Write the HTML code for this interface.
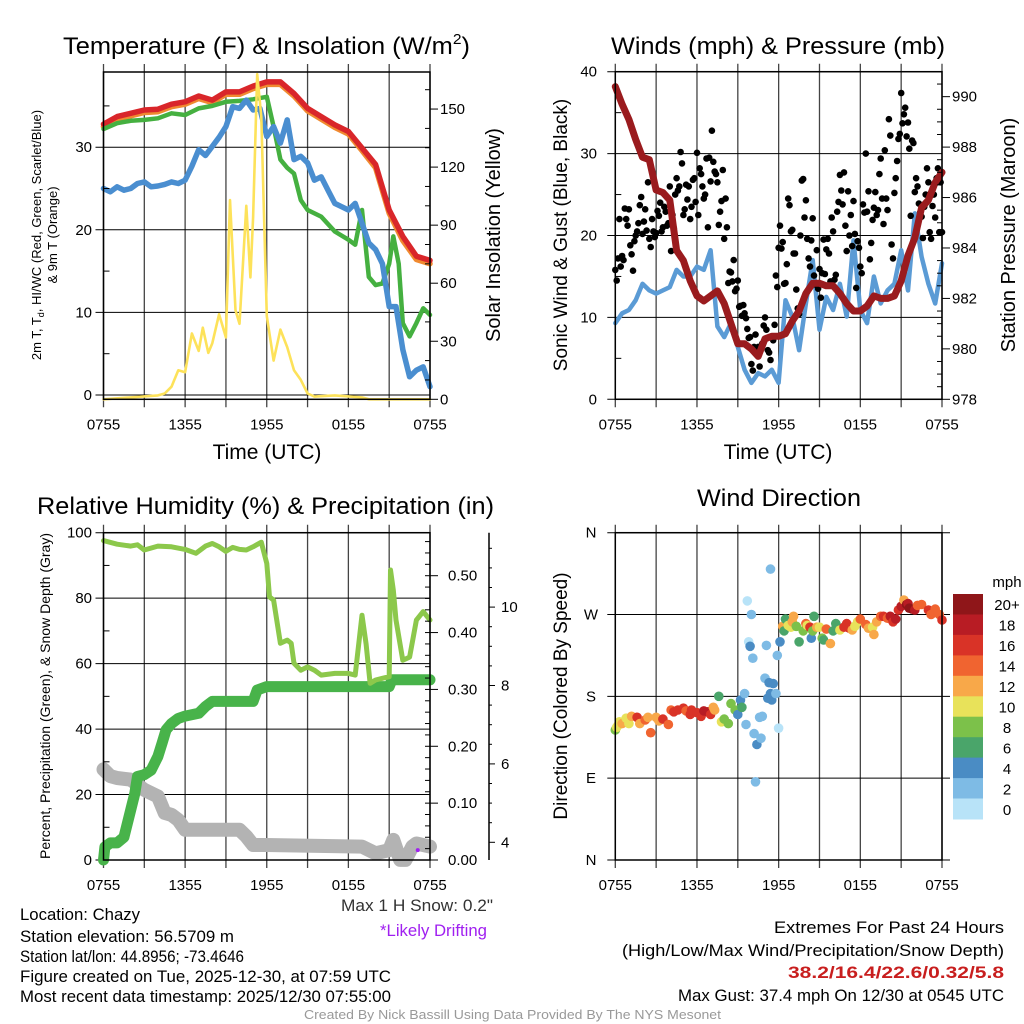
<!DOCTYPE html>
<html><head><meta charset="utf-8"><style>
html,body{margin:0;padding:0;background:#fff;}
svg{display:block;font-family:"Liberation Sans",sans-serif;}
</style></head><body>
<svg id="c" width="1024" height="1024" viewBox="0 0 1024 1024">
<g id="g-grid"></g>
<g id="g-data"></g>
<g id="g-axes"></g>
<g id="g-text">
<text x="63" y="54" font-size="24.5" textLength="407" lengthAdjust="spacingAndGlyphs">Temperature (F) &amp; Insolation (W/m<tspan font-size="15" dy="-10">2</tspan><tspan dy="10">)</tspan></text>
<text x="611" y="54" font-size="24.5" textLength="334" lengthAdjust="spacingAndGlyphs">Winds (mph) &amp; Pressure (mb)</text>
<text x="37" y="514" font-size="24.5" textLength="457" lengthAdjust="spacingAndGlyphs">Relative Humidity (%) &amp; Precipitation (in)</text>
<text x="697" y="506" font-size="24.5" textLength="164" lengthAdjust="spacingAndGlyphs">Wind Direction</text>
<text x="267" y="459" font-size="21" text-anchor="middle">Time (UTC)</text>
<text x="778" y="459" font-size="21" text-anchor="middle">Time (UTC)</text>
<text transform="translate(41,235) rotate(-90)" font-size="13" text-anchor="middle">2m T, T<tspan font-size="9" dy="3">d</tspan><tspan dy="-3">, HI/WC (Red, Green, Scarlet/Blue)</tspan></text>
<text transform="translate(57,235) rotate(-90)" font-size="13" text-anchor="middle">&amp; 9m T (Orange)</text>
<text transform="translate(500,235) rotate(-90)" font-size="20" text-anchor="middle">Solar Insolation (Yellow)</text>
<text transform="translate(567,235) rotate(-90)" font-size="19" text-anchor="middle">Sonic Wind &amp; Gust (Blue, Black)</text>
<text transform="translate(1015,235) rotate(-90)" font-size="20" text-anchor="middle">Station Pressure (Maroon)</text>
<text transform="translate(50,696) rotate(-90)" font-size="14" text-anchor="middle">Percent, Precipitation (Green), &amp; Snow Depth (Gray)</text>
<text transform="translate(567,696) rotate(-90)" font-size="19" text-anchor="middle">Direction (Colored By Speed)</text>
<text x="1007" y="587" font-size="15" text-anchor="middle">mph</text>
<g font-size="17">
<text x="20" y="920" textLength="120" lengthAdjust="spacingAndGlyphs">Location: Chazy</text>
<text x="20" y="942" textLength="214" lengthAdjust="spacingAndGlyphs">Station elevation: 56.5709 m</text>
<text x="20" y="962" textLength="224" lengthAdjust="spacingAndGlyphs">Station lat/lon: 44.8956; -73.4646</text>
<text x="20" y="982" textLength="371" lengthAdjust="spacingAndGlyphs">Figure created on Tue, 2025-12-30, at 07:59 UTC</text>
<text x="20" y="1002" textLength="371" lengthAdjust="spacingAndGlyphs">Most recent data timestamp: 2025/12/30 07:55:00</text>
</g>
<text x="341" y="911" font-size="17" textLength="152" lengthAdjust="spacingAndGlyphs" fill="#333">Max 1 H Snow: 0.2"</text>
<text x="380" y="936" font-size="17" textLength="107" lengthAdjust="spacingAndGlyphs" fill="#a020f0">*Likely Drifting</text>
<g font-size="17">
<text x="774" y="933" textLength="230" lengthAdjust="spacingAndGlyphs">Extremes For Past 24 Hours</text>
<text x="622" y="956" textLength="382" lengthAdjust="spacingAndGlyphs">(High/Low/Max Wind/Precipitation/Snow Depth)</text>
<text x="788" y="978" textLength="216" lengthAdjust="spacingAndGlyphs" fill="#c81e1e" font-weight="bold">38.2/16.4/22.6/0.32/5.8</text>
<text x="678" y="1001" textLength="326" lengthAdjust="spacingAndGlyphs">Max Gust: 37.4 mph On 12/30 at 0545 UTC</text>
</g>
<text x="304" y="1019" font-size="13" textLength="417" lengthAdjust="spacingAndGlyphs" fill="#999">Created By Nick Bassill Using Data Provided By The NYS Mesonet</text>
</g>
</svg>
<script>
// ---------- data ----------
const timeTickLabels = ["0755","1355","1955","0155","0755"];
const tempTicks = [0,10,20,30];
const solarTicks = [0,30,60,90,120,150];
const windTicks = [0,10,20,30,40];
const presTicks = [978,980,982,984,986,988,990];
const rhTicks = [0,20,40,60,80,100];
const precipTicks = [0,0.1,0.2,0.3,0.4,0.5];
const precipTickLabels = ["0.00","0.10","0.20","0.30","0.40","0.50"];
const snowTicks = [4,6,8,10];
const dirTicks = [0,90,180,270,360];
const dirTickLabels = ["N","E","S","W","N"];
const speedBins = ["0","2","4","6","8","10","12","14","16","18","20+"];
const speedColors = ["#b8e3f8","#7ebbe5","#4a8cc4","#4aa56a","#7cc14a","#e8e25a","#f8a849","#f06430","#d93327","#b81c24","#8f1619"];

const hourly = [0,1,2,3,4,5,6,7,8,9,10,11,12,13,14,15,16,17,18,19,20,21,22,23,24];
const tempRed = [32.8,33.7,34.1,34.5,34.6,35.2,35.5,36.2,35.7,36.7,36.7,37.4,37.9,37.9,36.5,34.7,33.7,32.7,31.9,29.9,27.9,22.4,19.2,16.8,16.3];
const tempOrange = [32.5,33.4,33.8,34.2,34.3,34.9,35.2,35.9,35.4,36.4,36.4,37.1,37.6,37.6,36.2,34.4,33.4,32.4,31.6,29.6,27.5,22.0,18.7,16.4,15.9];
const tdHours = [0,1,2,3,4,5,6,7,8,9,10,11,12,12.5,13,13.5,14,14.5,15,16,17,18,18.5,19,19.5,20,20.5,21,21.3,21.7,22,22.5,23,23.5,24];
const tdValues = [32.2,32.9,33.2,33.3,33.5,34.1,33.9,34.7,35.0,35.5,35.6,35.8,36.1,32.5,28.5,27.5,26.8,23.6,22.4,21.6,19.8,18.8,18.2,22.4,14.3,13.3,13.5,15.9,19.2,15.9,8.7,7.1,8.7,10.5,9.7];
const halfHours = [0,0.5,1,1.5,2,2.5,3,3.5,4,4.5,5,5.5,6,6.5,7,7.5,8,8.5,9,9.5,10,10.5,11,11.5,12,12.5,13,13.5,14,14.5,15,15.5,16,16.5,17,17.5,18,18.5,19,19.5,20,20.5,21,21.5,22,22.5,23,23.5,24];
const wcValues = [25.0,24.6,25.2,24.8,25.0,25.6,25.8,25.2,25.3,25.5,25.8,25.6,26.0,27.7,29.7,29.0,30.1,31.2,32.5,34.9,34.7,35.7,34.5,34.7,31.3,32.5,30.5,33.3,28.5,28.9,28.1,26.0,26.4,24.8,23.2,22.8,22.4,23.2,20.8,18.4,17.6,15.9,10.7,10.7,5.5,2.2,3.0,3.4,1.0];
const solarHours = [0,2,4,4.5,5,5.5,6,6.5,7,7.3,7.7,8,8.5,9,9.3,9.7,10,10.5,10.8,11,11.3,11.6,12,12.5,13,13.5,14,14.5,15,15.5,17,19,19.5,24];
const solarValues = [0,1,2,3,6.5,15,14,34,25,37,24,29,44,32,103,46,39,100,63,94,168,146,43,20,36,27,15,10,3,1.4,2,1,0,0];

const presValues = [990.4,989.7,989.1,988.3,987.6,987.5,986.3,986.2,985.9,983.9,983.5,982.7,982.1,981.9,982.1,982.3,981.8,981.0,980.2,980.2,980.0,979.7,980.4,980.5,980.5,980.6,981.1,981.5,982.2,982.6,982.6,982.5,982.5,982.2,981.8,981.5,981.5,981.7,982.1,982.0,982.0,982.1,982.7,983.7,984.4,985.6,985.9,986.6,987.0];
const windValues = [9.3,10.5,10.9,12.1,14.1,13.3,12.9,13.3,13.7,15.8,15.0,15.0,16.2,15.8,18.2,8.9,7.6,9.3,6.4,3.6,2.0,3.2,2.8,3.6,2.0,12.1,10.1,6.0,11.7,17.0,8.5,12.5,10.9,14.1,10.1,19.4,10.9,9.3,15.0,11.7,13.3,14.1,18.2,13.3,22.7,17.4,14.1,11.7,16.6];
// gusts every 0.1 h from 0755
const gustValues = [15.8,14.5,17.2,22,16.2,17.5,17,23.3,22,21.2,23.2,18.8,17.7,15.7,19.3,20,20.5,21.5,23.7,24.7,20.2,21.7,23.2,20.6,26.5,19.6,18.6,22,20.5,19.8,20.3,23,22.4,24,20.5,21,23.5,22.9,21.2,21.5,26,18.1,22.5,20.9,25,27,25.5,26,30.2,28.8,22.5,23.2,26.2,24.4,26,22,23.5,26.8,27,24.1,30.1,22.5,28.2,27.5,26,24.5,25,29.4,21,29.5,26.6,32.8,29,27.8,27.5,26.5,21.3,22.9,24.2,28,19.6,24.5,21,14.2,15.6,15.5,14.4,17,13.2,13.5,14.5,11.3,11.4,10.2,11.5,10.5,9.9,8.6,7.5,7.6,4.3,3.5,6.4,7.9,6.2,6.4,4,6.5,6.8,9,10,8.5,6,5.7,4.8,7.6,7.2,9.1,15.1,13.7,18.5,21.2,18.4,19.2,14.1,14.2,16.5,24.5,23.7,20.5,20.7,17.8,17.8,13.4,11.1,10.4,20,26.7,26.9,22.2,24.3,19.6,17.2,16.2,19.4,22.1,15.1,14,18.2,13.5,15.9,12.4,15.4,19.5,15.3,18.3,19.6,17.8,14.4,22.2,20.5,14.6,15.2,22.9,24.1,27.4,25.5,23.8,27.7,21.2,18.1,25.4,20,22.5,18.7,24.2,20.2,13.6,19.3,18.5,16.2,15.4,23.8,22.8,30,22.9,25.4,17.1,19.1,21.9,23.4,25.3,22.5,23.1,27.5,29.4,24.5,21.4,30.4,24.5,23.1,34.2,32.2,18.9,17.2,25.2,27,29.1,31.8,32.4,37.4,33.7,34.8,35.6,32.1,33.8,30.6,22.4,31.6,31.3,25.3,27,26,23.9,22.8,22.3,19.7,23.5,25,28.2,26.5,20.4,19.6,23.6,25,22.2,27,28.2,20.4,26.5,20.4];

const rhHours = [0,1,2,2.5,3,4,5,6,6.8,7.5,8,8.5,9,9.5,10,10.5,11,11.6,12,12.2,12.5,13,13.5,13.8,14,14.5,15,15.5,16,17,18,18.5,19,19.3,19.6,20,20.5,21,21.1,21.3,21.5,22,22.5,23,23.5,24];
const rhValues = [97.6,96.5,95.9,96.3,94.7,95.9,95.7,94.9,93.7,95.9,96.7,95.7,94.3,95.5,94.9,94.7,95.7,97.1,90.6,80.4,79.4,66.2,67.2,66.2,60.1,58,59,58,56.5,57,57,56.5,74.8,66,54,55,55.5,56,88.6,82.5,73.3,61,62,73.3,75.9,73.3];
const precipHours = [0,0.1,0.5,1,1.5,2,2.3,2.5,3,3.5,4,4.3,4.6,5,5.5,6,7,7.5,8,11,11.3,12,21,21.2,24];
const precipValues = [0,0.023,0.03,0.03,0.04,0.088,0.117,0.147,0.15,0.158,0.182,0.205,0.229,0.24,0.249,0.253,0.258,0.27,0.279,0.279,0.299,0.305,0.305,0.317,0.317];
const snowHours = [0,0.5,1,2,3,4,4.5,5,5.5,6,10,10.5,11,12,19,20,21,21.3,21.8,22.2,22.7,23,24];
const snowValues = [5.86,5.69,5.64,5.6,5.34,5.17,4.75,4.7,4.57,4.32,4.32,4.15,3.93,3.93,3.89,3.72,3.8,4.06,3.55,3.55,3.89,3.97,3.89];
const driftHours = [23.1];
const driftValues = [3.8];

const dirHours = [0,0.1,0.2,0.3,0.5,0.8,1,1.2,1.6,1.8,2.2,2.6,2.4,3,3.2,3.5,3.9,4.1,4.3,4.6,5,5.2,5.5,5.6,6,6.3,6.5,6.8,7,7.2,7.3,7.6,7.8,8,8.3,8.5,8.8,9,9.2,9.3,9.5,9.6,9.7,9.8,9.9,10,10.1,10.2,10.4,10.6,10.8,10.3,10.7,11,11.2,11.3,11.4,11.5,11.1,11.6,11.8,11.9,11.4,12,12.1,12.3,12.4,12.5,12.7,12.9,13,13.1,13.3,13.5,13.8,14,14.1,14.3,14.4,14.5,14.6,14.8,15,15.2,15.3,15.5,15.8,16,16.2,16.5,16.8,17,17.2,17.4,17.6,17.8,18,18.4,18.6,18.9,19,19.2,19.5,19.7,20,20.2,20.4,20.6,20.8,21,21.2,21.4,21.5,21.6,21.8,22,22.2,22.5,23,23.2,23.5,23.8,24];
const dirValues = [143,146,148,152,150,156,150,158,157,150,154,140,157,157,153,155,149,165,163,165,167,164,160,165,162,158,164,163,160,168,165,180,152,155,150,172,165,160,176,168,183,149,285,240,235,270,222,139,127,157,158,86,134,200,178,195,183,176,236,194,183,225,320,145,240,257,252,265,258,256,262,268,257,240,252,260,258,256,244,252,268,256,256,244,242,254,238,252,260,253,256,260,255,253,257,262,265,259,255,256,248,262,268,268,266,268,262,265,275,279,286,281,282,277,276,275,280,281,275,270,276,270,264];
const dirSpeeds = [8,10,10,10,12,10,10,12,16,12,14,14,12,12,12,16,14,14,16,16,16,14,16,16,16,16,18,18,16,12,12,6,10,8,8,8,8,4,4,6,2,2,0,0,4,2,2,2,4,2,2,2,2,2,4,4,4,4,2,4,2,2,2,0,4,12,6,6,10,10,12,12,8,6,8,14,10,16,4,8,6,12,10,8,6,14,12,6,6,10,16,16,16,12,10,10,14,14,12,10,12,12,14,16,14,18,16,18,16,18,12,20,18,20,20,18,14,14,16,14,14,14,16];

// ---------- helpers ----------
const NS = "http://www.w3.org/2000/svg";
const G = {grid:document.getElementById('g-grid'), data:document.getElementById('g-data'), axes:document.getElementById('g-axes'), text:document.getElementById('g-text')};
function mk(tag, attrs, parent){ const e=document.createElementNS(NS,tag); for(const k in attrs) e.setAttribute(k,attrs[k]); parent.appendChild(e); return e; }
function line(x1,y1,x2,y2,stroke,w,parent,name){ const e=mk('line',{x1,y1,x2,y2,stroke,'stroke-width':w},parent);
  
  
  return e; }
function txt(x,y,s,size,anchor,parent,name,fill){ const e=mk('text',{x,y,'font-size':size,'text-anchor':anchor,fill:fill||'#000'},parent); e.textContent=s;
  
  
  return e; }
function poly(hours, vals, xf, yf, color, w, name){
  const pts = hours.map((h,i)=>xf(h).toFixed(1)+','+yf(vals[i]).toFixed(1)).join(' ');
  const e = mk('polyline',{points:pts,fill:'none',stroke:color,'stroke-width':w,'stroke-linejoin':'round','stroke-linecap':'round'},G.data);
  
  
  return e;
}
function panelFrame(L,R,T,B,idx,ticksLeftVals,yf,leftLabels,labelX){
  for(let k=0;k<=8;k++){ const x=L+k*(R-L)/8; line(x,T-8,x,B+8,'#444',1.3,G.grid,'vgrid-'+idx); }
  ticksLeftVals.forEach((v,i)=>{ const y=yf(v); line(L-8,y,R+(idx===4?8:0),y,'#000',1,G.grid,'hgrid-'+idx);
    txt(labelX,y+5,leftLabels[i],15,idx===4?'middle':'end',G.axes,'y-tick-label-'+idx); });
  mk('rect',{x:L,y:T,width:R-L,height:B-T,fill:'none',stroke:'#000','stroke-width':1.5},G.axes);
  timeTickLabels.forEach((s,i)=>{ txt(L+i*(R-L)/4, B+30, s, 15,'middle',G.axes,'x-tick-label-'+idx); });
}

// ---------- panel 1 ----------
const L1=103.5,R1=430,T1=72,B1=399.3;
const x1=h=>L1+h/24*(R1-L1);
const yT=v=>395-v*8.26;
const yS=v=>399.3-v*1.935;
panelFrame(L1,R1,T1,B1,1,tempTicks,yT,tempTicks.map(String),92);
for(let v=5;v<40;v+=10) line(L1,yT(v),L1+6,yT(v),'#000',1,G.axes,'minor-tick');
solarTicks.forEach(v=>{ line(R1,yS(v),R1+8,yS(v),'#000',1,G.axes,'solar-tick'); txt(440,yS(v)+5,String(v),15,'start',G.axes,'solar-tick-label'); });
for(let v=10;v<170;v+=10) if(v%30) line(R1-5,yS(v),R1,yS(v),'#000',1,G.axes,'solar-minor-tick');
poly(hourly,tempOrange,x1,yT,'#f08a30',5.5,'temp-9m-orange');
poly(hourly,tempRed,x1,yT,'#d9262a',5.5,'temp-2m-red');
poly(tdHours,tdValues,x1,yT,'#45b040',4.5,'dewpoint-green');
poly(halfHours,wcValues,x1,yT,'#4a8ed0',5.5,'windchill-blue');
poly(solarHours,solarValues,x1,yS,'#fde25a',2.6,'solar-yellow');

// ---------- panel 2 ----------
const L2=615.3,R2=942,T2=71.7,B2=399.3;
const x2=h=>L2+h/24*(R2-L2);
const yW=v=>399.3-v*8.19;
const yP=p=>399.3-(p-978)*25.22;
panelFrame(L2,R2,T2,B2,2,windTicks,yW,windTicks.map(String),597);
for(let v=5;v<40;v+=10) line(L2,yW(v),L2+6,yW(v),'#000',1,G.axes,'minor-tick');
presTicks.forEach(p=>{ line(R2,yP(p),R2+8,yP(p),'#000',1,G.axes,'pressure-tick'); txt(952,yP(p)+5,String(p),15,'start',G.axes,'pressure-tick-label'); });
for(let p=978.5;p<991;p+=0.5) if(p%2) line(R2-5,yP(p),R2,yP(p),'#000',1,G.axes,'pressure-minor-tick');
poly(halfHours,windValues,x2,yW,'#5b9bd5',4.5,'sonic-wind-blue');
gustValues.forEach((v,i)=>{ const c=mk('circle',{cx:x2(i*0.1).toFixed(1),cy:yW(v).toFixed(1),r:3.3,fill:'#000'},G.data);
  
   });
poly(halfHours,presValues,x2,yP,'#9a1b1e',7,'pressure-maroon');

// ---------- panel 3 ----------
const L3=103.5,R3=430,T3=532.7,B3=860;
const x3=h=>L3+h/24*(R3-L3);
const yR=v=>860-v*3.273;
const yIn=v=>860-v*568.6;
const ySn=v=>842.3-(v-4)*39.2;
panelFrame(L3,R3,T3,B3,3,rhTicks,yR,rhTicks.map(String),92);
for(let v=10;v<100;v+=20) line(L3,yR(v),L3+6,yR(v),'#000',1,G.axes,'minor-tick');
precipTicks.forEach((v,i)=>{ line(R3,yIn(v),R3+8,yIn(v),'#000',1,G.axes,'precip-tick'); txt(448,yIn(v)+5,precipTickLabels[i],15,'start',G.axes,'precip-tick-label'); });
for(let v=0.02;v<0.575;v+=0.02) line(R3-5,yIn(v),R3,yIn(v),'#000',1,G.axes,'precip-minor-tick');
line(489,T3,489,B3,'#000',1.5,G.axes,'snow-axis-line');
snowTicks.forEach(v=>{ line(489,ySn(v),495,ySn(v),'#000',1,G.axes,'snow-tick'); txt(501,ySn(v)+5,String(v),15,'start',G.axes,'snow-tick-label'); });
for(let v=4.5;v<12;v+=0.5) if(v%2) line(489,ySn(v),492,ySn(v),'#000',1,G.axes,'snow-minor-tick');
poly(snowHours,snowValues,x3,ySn,'#b3b3b3',14,'snow-depth-gray');
poly(precipHours,precipValues,x3,yIn,'#48b34a',11,'precip-green');
poly(rhHours,rhValues,x3,yR,'#8cc84b',5,'rh-green');
driftHours.forEach((h,i)=>{ const c=mk('circle',{cx:x3(h),cy:ySn(driftValues[i]),r:2,fill:'#a020f0'},G.data);
  
   });

// ---------- panel 4 ----------
const L4=615.3,R4=942,T4=532.7,B4=860;
const x4=h=>L4+h/24*(R4-L4);
const yD=d=>860-d*0.9092;
panelFrame(L4,R4,T4,B4,4,dirTicks,yD,dirTickLabels,591);
dirHours.forEach((h,i)=>{ const b=Math.max(0,Math.min(10,Math.floor(dirSpeeds[i]/2)));
  const c=mk('circle',{cx:x4(h).toFixed(1),cy:yD(dirValues[i]).toFixed(1),r:4.8,fill:speedColors[b]},G.data);
  
   });
const cbTop=594, cbH=225/11;
speedBins.forEach((s,i)=>{ const k=10-i; const y=cbTop+i*cbH;
  const r=mk('rect',{x:953,y:y.toFixed(1),width:30,height:(cbH+0.5).toFixed(1),fill:speedColors[k]},G.axes);
  
  
  txt(1007,y+cbH/2+6,speedBins[k],15,'middle',G.axes,'colorbar-label'); });
</script>
</body></html>
